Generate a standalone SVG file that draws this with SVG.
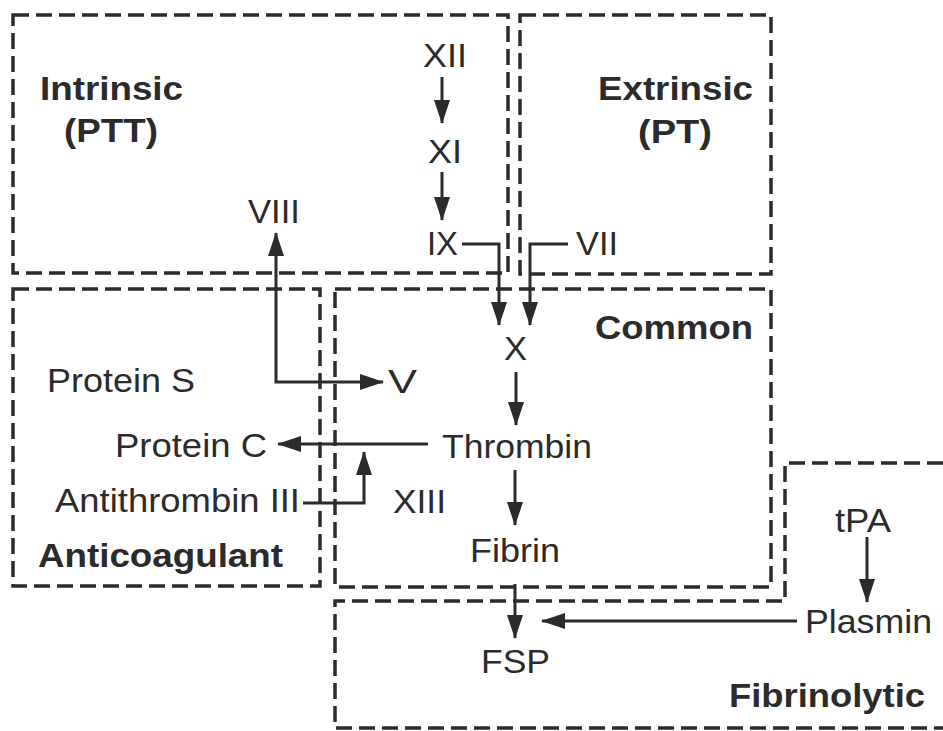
<svg xmlns="http://www.w3.org/2000/svg" width="943" height="731" viewBox="0 0 943 731">
<defs>
<style>
.box{fill:none;stroke:#2b2b2b;stroke-width:3.5;stroke-dasharray:16 7}
.t{font-family:"Liberation Sans",Arial,sans-serif;font-size:33px;fill:#2b2b2b}
.b{font-family:"Liberation Sans",Arial,sans-serif;font-size:34px;font-weight:bold;fill:#2b2b2b}
.c{fill:none;stroke:#2b2b2b;stroke-width:3;marker-end:url(#ah)}
</style>
<marker id="ah" viewBox="0 0 24 16" markerWidth="24" markerHeight="16" refX="23" refY="8" orient="auto-start-reverse" markerUnits="userSpaceOnUse">
<path d="M0,0 L24,8 L0,16 z" fill="#2b2b2b"/>
</marker>
</defs>
<rect width="943" height="731" fill="#ffffff"/>
<g id="box-intrinsic"><rect class="box" x="13" y="15" width="495" height="258"/>
<text class="b" x="40" y="100" textLength="143" lengthAdjust="spacingAndGlyphs">Intrinsic</text>
<text class="b" x="64" y="142" textLength="94" lengthAdjust="spacingAndGlyphs">(PTT)</text></g>
<g id="box-extrinsic"><rect class="box" x="520" y="15" width="251" height="259"/>
<text class="b" x="598" y="100" textLength="155" lengthAdjust="spacingAndGlyphs">Extrinsic</text>
<text class="b" x="638" y="143" textLength="74" lengthAdjust="spacingAndGlyphs">(PT)</text></g>
<g id="box-anticoagulant"><rect class="box" x="13" y="289" width="307" height="297"/>
<text class="b" x="38" y="567" textLength="245" lengthAdjust="spacingAndGlyphs">Anticoagulant</text></g>
<g id="box-common"><rect class="box" x="335" y="289" width="436" height="298"/>
<text class="b" x="595" y="339" textLength="158" lengthAdjust="spacingAndGlyphs">Common</text></g>
<g id="box-fibrinolytic"><path class="box" d="M943 463 H785 V601 H335 V728 H943"/>
<text class="b" x="729" y="707" textLength="196" lengthAdjust="spacingAndGlyphs">Fibrinolytic</text></g>
<g id="n-XII"><text class="t" x="423" y="67" textLength="44" lengthAdjust="spacingAndGlyphs">XII</text></g>
<g id="n-XI"><text class="t" x="428" y="163" textLength="34" lengthAdjust="spacingAndGlyphs">XI</text></g>
<g id="n-IX"><text class="t" x="427" y="255" textLength="31" lengthAdjust="spacingAndGlyphs">IX</text></g>
<g id="n-VIII"><text class="t" x="248" y="223" textLength="52" lengthAdjust="spacingAndGlyphs">VIII</text></g>
<g id="n-VII"><text class="t" x="576" y="255" textLength="42" lengthAdjust="spacingAndGlyphs">VII</text></g>
<g id="n-X"><text class="t" x="504" y="360" textLength="23" lengthAdjust="spacingAndGlyphs">X</text></g>
<g id="n-V"><text class="t" x="388" y="393" textLength="29" lengthAdjust="spacingAndGlyphs">V</text></g>
<g id="n-proteinS"><text class="t" x="47" y="392" textLength="148" lengthAdjust="spacingAndGlyphs">Protein S</text></g>
<g id="n-proteinC"><text class="t" x="115" y="457" textLength="152" lengthAdjust="spacingAndGlyphs">Protein C</text></g>
<g id="n-thrombin"><text class="t" x="442" y="458" textLength="150" lengthAdjust="spacingAndGlyphs">Thrombin</text></g>
<g id="n-antithrombin"><text class="t" x="55" y="512" textLength="245" lengthAdjust="spacingAndGlyphs">Antithrombin III</text></g>
<g id="n-XIII"><text class="t" x="393" y="513" textLength="53" lengthAdjust="spacingAndGlyphs">XIII</text></g>
<g id="n-fibrin"><text class="t" x="470" y="562" textLength="90" lengthAdjust="spacingAndGlyphs">Fibrin</text></g>
<g id="n-FSP"><text class="t" x="481" y="673" textLength="69" lengthAdjust="spacingAndGlyphs">FSP</text></g>
<g id="n-tPA"><text class="t" x="835" y="532" textLength="56" lengthAdjust="spacingAndGlyphs">tPA</text></g>
<g id="n-plasmin"><text class="t" x="805" y="633" textLength="127" lengthAdjust="spacingAndGlyphs">Plasmin</text></g>
<g id="connectors">
<path class="c" d="M442 77 V123"/>
<path class="c" d="M442 172 V220"/>
<path class="c" d="M462 244 H499 V325"/>
<path class="c" d="M568 244 H530 V325"/>
<path class="c" d="M276 233 V382 H383" style="marker-start:url(#ah)"/>
<path class="c" d="M516 372 V425"/>
<path class="c" d="M428 444 H278"/>
<path class="c" d="M303 503 H364 V452"/>
<path class="c" d="M515 470 V525"/>
<path class="c" d="M515 584 V638"/>
<path class="c" d="M797 621 H542"/>
<path class="c" d="M867 537 V602"/>
</g>
</svg>
